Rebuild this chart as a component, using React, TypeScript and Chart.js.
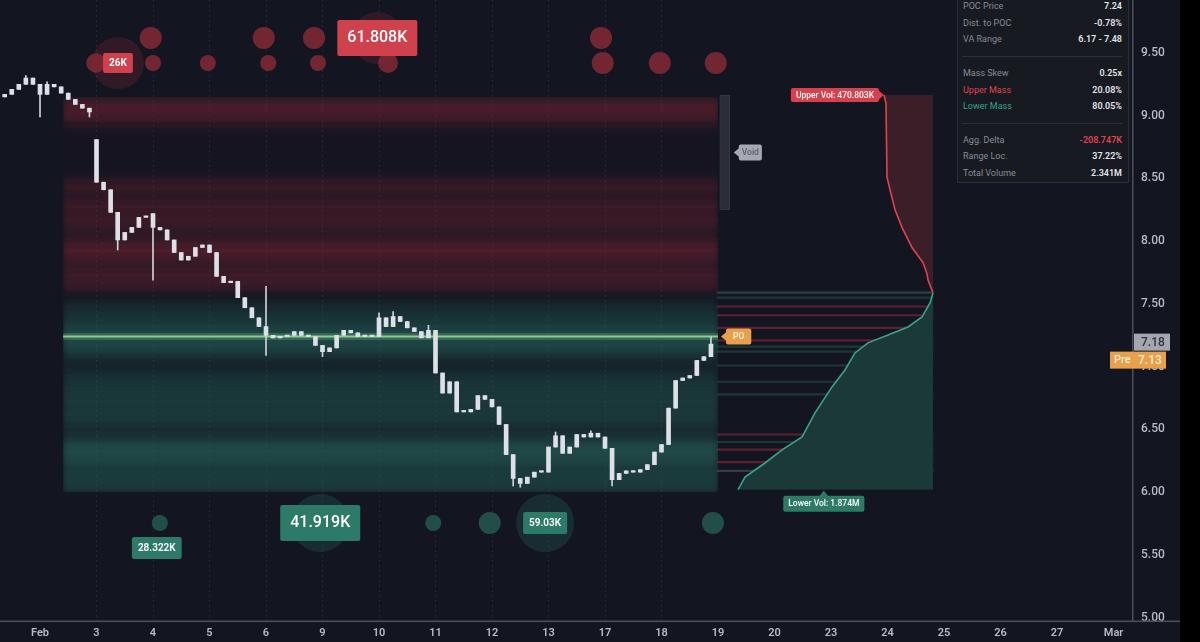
import React, { useEffect, useRef } from "react";
import { Chart, registerables } from "chart.js";

Chart.register(...registerables);

// ---- session axis (one unit per trading session, "Feb" = Feb 2) ----
const SESSION_LABELS = ["Feb", "3", "4", "5", "6", "9", "10", "11", "12", "13", "17", "18", "19", "20", "23", "24", "25", "26", "27", "Mar"];
const PRICE_TICKS = [5.0, 5.5, 6.0, 6.5, 7.0, 7.5, 8.0, 8.5, 9.0, 9.5];
const X_MIN = -0.708;
const X_MAX = 19.345;
const Y_MIN = 4.974;
const Y_MAX = 9.922;

// ---- intraday bars: 8 per session, first bar at session -0.625 ----
const BAR_FIRST = -0.625;
const BAR_STEP = 0.125;
const CLOSES = [
  9.17, 9.21, 9.25, 9.30, 9.25, 9.17, 9.25, 9.23, 9.18, 9.13, 9.09, 9.06, 9.03,
  8.47, 8.41, 8.23, 8.01, 8.07, 8.11, 8.19, 8.20,
  8.11, 8.09, 8.01, 7.91, 7.85, 7.88, 7.95, 7.97,
  7.91, 7.72, 7.67, 7.68, 7.55, 7.47, 7.39, 7.32,
  7.25, 7.23, 7.24, 7.25, 7.28, 7.25, 7.24, 7.17,
  7.12, 7.15, 7.25, 7.29, 7.27, 7.24, 7.25, 7.24,
  7.39, 7.32, 7.40, 7.36, 7.31, 7.28, 7.23, 7.29,
  6.95, 6.79, 6.88, 6.64, 6.64, 6.66, 6.77, 6.74,
  6.68, 6.54, 6.30, 6.11, 6.07, 6.12, 6.16, 6.16,
  6.36, 6.45, 6.31, 6.36, 6.46, 6.44, 6.47, 6.44,
  6.35, 6.10, 6.15, 6.17, 6.16, 6.18, 6.22, 6.32,
  6.38, 6.67, 6.89, 6.91, 6.93, 7.05, 7.08, 7.18,
];
// opens that differ from the prior close (session gaps)
const GAP_OPENS: Record<number, number> = { 0: 9.15, 13: 8.81, 21: 8.22 };
const WICK_LOWS: Record<number, number> = { 5: 8.99, 12: 8.99, 16: 7.93, 21: 7.69, 37: 7.09, 45: 7.08, 72: 6.05, 73: 6.04, 86: 6.05 };
const WICK_HIGHS: Record<number, number> = { 3: 9.32, 6: 9.27, 37: 7.64, 53: 7.43, 55: 7.44, 60: 7.33, 78: 6.48, 83: 6.49, 100: 7.24 };

// ---- liquidity heatmap (price bins of 0.05 from 6.00) ----
const HEAT_FROM = 6.0;
const HEAT_BIN = 0.05;
const HEAT_SPLIT = 7.57;
const HEAT_START = 0.41;
const HEAT_END = 12.0;
const HEAT_INTENSITY = [
  0.55, 0.6, 0.6, 0.55, 0.65, 0.8, 0.85, 0.8, 0.5, 0.35,
  0.35, 0.5, 0.55, 0.5, 0.55, 0.5, 0.5, 0.45, 0.4, 0.25,
  0.2, 0.35, 0.6, 0.75, 0.85, 0.75, 0.6, 0.5, 0.4, 0.3,
  0.15,
  0.05, 0.4, 0.5, 0.55, 0.45, 0.4, 0.6, 0.8, 0.6, 0.35,
  0.3, 0.4, 0.55, 0.35, 0.55, 0.35, 0.3, 0.5, 0.35, 0.1,
  0.05, 0.05, 0.05, 0.05, 0.05, 0.05, 0.08, 0.25, 0.55, 0.7,
  0.7, 0.45,
];

// ---- key levels ----
const POC_PRICE = 7.24;
const VA_LOW = 6.17;
const VA_HIGH = 7.48;
const LAST_PRICE = 7.18;
const PRE_PRICE = 7.13;
const VOID_LOW = 8.25;
const VOID_HIGH = 9.165;
const VOID_SESSION = 12.12;

// ---- cumulative volume profile (millions), measured out from the mass split ----
const UPPER_VOL = 0.470803;
const LOWER_VOL = 1.874;
const UPPER_PRICES = [7.59, 7.61, 7.69, 7.74, 7.83, 7.95, 8.11, 8.25, 8.41, 8.51, 9.10, 9.165];
const UPPER_CUM = [0, 0.01, 0.048, 0.058, 0.096, 0.202, 0.298, 0.365, 0.413, 0.442, 0.452, UPPER_VOL];
const LOWER_PRICES = [6.02, 6.12, 6.233, 6.337, 6.44, 6.632, 6.839, 6.974, 7.11, 7.19, 7.253, 7.317, 7.396, 7.508, 7.588];
const LOWER_CUM = [LOWER_VOL, 1.807, 1.615, 1.451, 1.259, 1.134, 0.971, 0.846, 0.75, 0.625, 0.432, 0.24, 0.106, 0.029, 0];
const PROFILE_SPAN = 2.076;
const VOL_MIN = -1.922;
const VOL_MAX = 8.967;

// thin level lines inside the profile column
const LEVEL_PRICES = [7.59, 7.55, VA_HIGH, 7.41, 7.31, 7.21, 7.16, 7.12, 7.01, 6.88, 6.78, 6.46, 6.40, 6.34, 6.24, VA_LOW];
const LEVEL_SIDE = ["n", "b", "s", "s", "s", "s", "b", "b", "b", "b", "b", "s", "b", "s", "s", "n"];

// ---- large-trade bubbles (volume in K) ----
const SELL_SESSION = [1.96, 3.96, 4.85, 9.93, 0.99, 2.0, 2.97, 4.04, 4.92, 6.16, 9.96, 10.97, 11.96];
const SELL_PRICE = [9.62, 9.62, 9.62, 9.62, 9.42, 9.42, 9.42, 9.42, 9.42, 9.42, 9.42, 9.42, 9.42];
const SELL_VOL = [71, 71, 71, 71, 50, 28, 28, 28, 28, 54, 71, 71, 71];
const BUY_SESSION = [6.96, 7.96, 11.91];
const BUY_PRICE = [5.755, 5.755, 5.755];
const BUY_VOL = [28, 71, 71];

const SELL_TAG_SESSION = [1.38, 5.97];
const SELL_TAG_PRICE = [9.42, 9.62];
const SELL_TAG_VOL = [26.0, 61.808];
const SELL_TAG_TEXT = ["26K", "61.808K"];
const BUY_TAG_SESSION = [2.12, 4.96, 8.94];
const BUY_TAG_PRICE = [5.755, 5.755, 5.755];
const BUY_TAG_VOL = [28.322, 41.919, 59.03];
const BUY_TAG_TEXT = ["28.322K", "41.919K", "59.03K"];

const TABLE_ROWS: ([string, string] | null)[] = [
  ["POC Price", POC_PRICE.toFixed(2)],
  ["Dist. to POC", "-0.78%"],
  ["VA Range", `${VA_LOW.toFixed(2)} - ${VA_HIGH.toFixed(2)}`],
  null,
  ["Mass Skew", "0.25x"],
  ["Upper Mass", "20.08%"],
  ["Lower Mass", "80.05%"],
  null,
  ["Agg. Delta", "-208.747K"],
  ["Range Loc.", "37.22%"],
  ["Total Volume", "2.341M"],
];

// ---- styling ----
const BG = "#131621";
const AXIS_TEXT = "#b8bbc3";
const LINE_GRAY = "#4b4f5a";
const SELL_RED = "#cf414d";
const BUY_TEAL = "#2c7a67";
const FONT = 'Roboto, "DejaVu Sans", sans-serif';

const bubbleRadius = (volK: number) => 3 + 0.95 * Math.sqrt(volK);

type TagOpts = {
  bg: string; fg: string; size: number; weight?: number; padX: number; h: number;
  arrow?: "left" | "right" | "up" | "none"; radius?: number;
};

function drawTag(ctx: CanvasRenderingContext2D, text: string, x: number, y: number, o: TagOpts) {
  const a = 5;
  ctx.save();
  ctx.font = `${o.weight ?? 500} ${o.size}px ${FONT}`;
  const w = ctx.measureText(text).width + o.padX * 2;
  const h = o.h;
  let bx = x - w / 2;
  let by = y - h / 2;
  if (o.arrow === "left") bx = x + a;
  else if (o.arrow === "right") bx = x - a - w;
  else if (o.arrow === "up") by = y + a;
  ctx.fillStyle = o.bg;
  ctx.beginPath();
  ctx.roundRect(bx, by, w, h, o.radius ?? 2);
  ctx.fill();
  ctx.beginPath();
  if (o.arrow === "left") {
    ctx.moveTo(x, y); ctx.lineTo(bx + 1, y - a); ctx.lineTo(bx + 1, y + a);
  } else if (o.arrow === "right") {
    ctx.moveTo(x, y); ctx.lineTo(bx + w - 1, y - a); ctx.lineTo(bx + w - 1, y + a);
  } else if (o.arrow === "up") {
    ctx.moveTo(x, y); ctx.lineTo(x - a, by + 1); ctx.lineTo(x + a, by + 1);
  }
  ctx.closePath();
  ctx.fill();
  ctx.fillStyle = o.fg;
  ctx.textAlign = "center";
  ctx.textBaseline = "middle";
  ctx.fillText(text, bx + w / 2, by + h / 2 + 0.5);
  ctx.restore();
}

const overlayPlugin = {
  id: "overlay",
  beforeDraw(chart: any) {
    const { ctx, width, height } = chart;
    ctx.save();
    ctx.fillStyle = BG;
    ctx.fillRect(0, 0, width, height);
    ctx.restore();
  },
  beforeDatasetDraw(chart: any, args: any) {
    const ds = chart.data.datasets[args.index];
    if (!ds.softEdges) return;
    const { x, yH } = chart.scales;
    const ctx = chart.ctx;
    const left = x.getPixelForValue(HEAT_START);
    const right = x.getPixelForValue(HEAT_END);
    const top = yH.getPixelForValue(HEAT_FROM + HEAT_BIN * HEAT_INTENSITY.length);
    const bottom = yH.getPixelForValue(HEAT_FROM);
    ctx.save();
    ctx.beginPath();
    ctx.rect(left, top, right - left, bottom - top);
    ctx.clip();
    ctx.filter = "blur(3px)";
  },
  afterDatasetDraw(chart: any, args: any) {
    const ds = chart.data.datasets[args.index];
    if (ds.softEdges) chart.ctx.restore();
  },
  afterDraw(chart: any) {
    const { ctx, chartArea, width } = chart;
    const { x, y, xVol } = chart.scales;

    // bottom rule across the full width
    ctx.save();
    ctx.fillStyle = LINE_GRAY;
    ctx.fillRect(0, chartArea.bottom - 0.5, width, 1.6);
    ctx.restore();

    // bubble tags
    SELL_TAG_TEXT.forEach((t, i) => {
      const big = SELL_TAG_VOL[i] > 50;
      drawTag(ctx, t, x.getPixelForValue(SELL_TAG_SESSION[i]), y.getPixelForValue(SELL_TAG_PRICE[i]), {
        bg: SELL_RED, fg: "#ffffff", size: big ? 16 : 10, weight: big ? 500 : 700,
        padX: big ? 10 : 6, h: big ? 36 : 20,
      });
    });
    BUY_TAG_TEXT.forEach((t, i) => {
      const big = i === 1;
      const below = i === 0;
      drawTag(ctx, t, x.getPixelForValue(BUY_TAG_SESSION[i]) - (below ? 3 : 0),
        y.getPixelForValue(BUY_TAG_PRICE[i]) + (below ? 25 : 0), {
          bg: BUY_TEAL, fg: "#ffffff", size: big ? 16 : 10, weight: big ? 500 : 600,
          padX: big ? 10 : 6, h: big ? 36 : 22,
        });
    });

    // profile tags
    drawTag(ctx, `Upper Vol: ${(UPPER_VOL * 1000).toFixed(3)}K`, xVol.getPixelForValue(UPPER_VOL),
      y.getPixelForValue(UPPER_PRICES[UPPER_PRICES.length - 1]),
      { bg: "#d9404d", fg: "#ffffff", size: 8.5, padX: 5, h: 14, arrow: "right" });
    drawTag(ctx, `Lower Vol: ${LOWER_VOL.toFixed(3)}M`, xVol.getPixelForValue(LOWER_VOL * 0.56),
      y.getPixelForValue(LOWER_PRICES[0]) + 1,
      { bg: BUY_TEAL, fg: "#ffffff", size: 8.5, padX: 5, h: 16, arrow: "up" });
    drawTag(ctx, "PO", x.getPixelForValue(HEAT_END) + 3, y.getPixelForValue(POC_PRICE),
      { bg: "#e9a04a", fg: "#fff3e0", size: 8.5, padX: 7, h: 16, arrow: "left" });
    drawTag(ctx, "Void", x.getPixelForValue(VOID_SESSION) + 9, y.getPixelForValue((VOID_LOW + VOID_HIGH) / 2),
      { bg: "#a6a9b1", fg: "#5d6069", size: 8.5, padX: 3, h: 16, arrow: "left" });

    // price-axis markers
    const axisX = chartArea.right;
    const lastY = y.getPixelForValue(LAST_PRICE) - 2;
    const preY = lastY + 18;
    ctx.save();
    ctx.fillStyle = "#a3a6ae";
    ctx.fillRect(axisX + 1, lastY - 8.5, 36, 17);
    ctx.font = `500 12px ${FONT}`;
    ctx.fillStyle = "#30333d";
    ctx.textBaseline = "middle";
    ctx.textAlign = "left";
    ctx.fillText(LAST_PRICE.toFixed(2), axisX + 8, lastY + 0.5);
    ctx.fillStyle = "#e9a04a";
    ctx.fillRect(axisX - 23, preY - 8.5, 56, 17);
    ctx.fillStyle = "#fff0db";
    ctx.font = `500 11px ${FONT}`;
    ctx.fillText("Pre", axisX - 19, preY + 0.5);
    ctx.font = `500 12px ${FONT}`;
    ctx.fillText(PRE_PRICE.toFixed(2), axisX + 5, preY + 0.5);
    ctx.restore();
  },
};

function buildConfig(): any {
  const barX = CLOSES.map((_, i) => BAR_FIRST + i * BAR_STEP);
  const opens = CLOSES.map((c, i) => GAP_OPENS[i] ?? CLOSES[i - 1] ?? c);
  const bodies = CLOSES.map((c, i) => ({ x: barX[i], y: [opens[i], c] }));
  const wicks = CLOSES.map((c, i) => ({
    x: barX[i],
    y: [WICK_LOWS[i] ?? Math.min(opens[i], c), WICK_HIGHS[i] ?? Math.max(opens[i], c)],
  }));

  const heatLevels = HEAT_INTENSITY.map((_, i) => HEAT_FROM + HEAT_BIN * (i + 0.5));
  const heatColors = heatLevels.map((lv, i) =>
    lv > HEAT_SPLIT
      ? `rgba(128,38,52,${HEAT_INTENSITY[i] * 0.76})`
      : `rgba(40,106,96,${HEAT_INTENSITY[i] * 0.8})`);

  const levelColors = LEVEL_SIDE.map((s) =>
    s === "s" ? "rgba(140,42,58,0.6)" : s === "b" ? "rgba(42,100,92,0.42)" : "rgba(95,120,120,0.4)");

  const sellBubbles = SELL_SESSION.map((s, i) => ({ x: s, y: SELL_PRICE[i], r: bubbleRadius(SELL_VOL[i]) }));
  const buyBubbles = BUY_SESSION.map((s, i) => ({ x: s, y: BUY_PRICE[i], r: bubbleRadius(BUY_VOL[i]) }));
  const sellTagBubbles = SELL_TAG_SESSION.map((s, i) => ({ x: s, y: SELL_TAG_PRICE[i], r: bubbleRadius(SELL_TAG_VOL[i]) }));
  const buyTagBubbles = BUY_TAG_SESSION.map((s, i) => ({ x: s, y: BUY_TAG_PRICE[i], r: bubbleRadius(BUY_TAG_VOL[i]) }));
  const sellHalos = SELL_TAG_SESSION.map((s, i) => ({ x: s, y: SELL_TAG_PRICE[i], r: 26 }));
  const buyHalos = BUY_TAG_SESSION.slice(1).map((s, i) => ({ x: s, y: BUY_TAG_PRICE[i + 1], r: 29 }));

  const hBar = { type: "bar", indexAxis: "y", grouped: false, borderWidth: 0, barPercentage: 1, categoryPercentage: 1 };
  const flat = { offset: false, grid: { offset: false } };

  return {
    type: "bar",
    data: {
      datasets: [
        {
          ...hBar, softEdges: true, xAxisID: "x", yAxisID: "yH", order: 30,
          data: heatLevels.map((lv) => ({ y: lv, x: [HEAT_START, HEAT_END] })),
          backgroundColor: heatColors,
        },
        {
          ...hBar, xAxisID: "xVol", yAxisID: "yP", order: 25, barThickness: 1.5,
          data: LEVEL_PRICES.map((p) => ({ y: p, x: [0, PROFILE_SPAN] })),
          backgroundColor: levelColors,
        },
        {
          type: "line", indexAxis: "y", xAxisID: "xVol", yAxisID: "y", order: 20,
          data: UPPER_PRICES.map((p, i) => ({ x: UPPER_CUM[i], y: p })),
          borderColor: "#e2414f", borderWidth: 1.6, pointRadius: 0, tension: 0,
          backgroundColor: "#3b1f28", fill: { value: 0 },
        },
        {
          type: "line", indexAxis: "y", xAxisID: "xVol", yAxisID: "y", order: 20,
          data: LOWER_PRICES.map((p, i) => ({ x: LOWER_CUM[i], y: p })),
          borderColor: "#3aa38b", borderWidth: 1.6, pointRadius: 0, tension: 0,
          backgroundColor: "#1b3936", fill: { value: 0 },
        },
        {
          type: "bar", grouped: false, xAxisID: "x", yAxisID: "y", order: 18, barThickness: 10,
          data: [{ x: VOID_SESSION, y: [VOID_LOW, VOID_HIGH] }],
          backgroundColor: "#2a2d36", borderColor: "#383b44", borderWidth: 1, borderSkipped: false,
        },
        {
          type: "line", xAxisID: "x", yAxisID: "y", order: 12,
          data: [{ x: HEAT_START, y: POC_PRICE }, { x: HEAT_END, y: POC_PRICE }],
          borderColor: "rgba(140,215,150,0.22)", borderWidth: 7, pointRadius: 0, fill: false,
        },
        {
          type: "line", xAxisID: "x", yAxisID: "y", order: 11,
          data: [{ x: HEAT_START, y: POC_PRICE }, { x: HEAT_END, y: POC_PRICE }],
          borderColor: "rgba(150,215,150,0.9)", borderWidth: 2, pointRadius: 0, fill: false,
        },
        {
          type: "bubble", xAxisID: "x", yAxisID: "y", order: 9,
          data: sellHalos, backgroundColor: "rgba(120,38,48,0.3)", borderWidth: 0,
        },
        {
          type: "bubble", xAxisID: "x", yAxisID: "y", order: 9,
          data: buyHalos, backgroundColor: "rgba(34,84,76,0.38)", borderWidth: 0,
        },
        {
          type: "bubble", xAxisID: "x", yAxisID: "y", order: 8,
          data: [...sellBubbles, ...sellTagBubbles], backgroundColor: "rgba(140,44,54,0.78)", borderWidth: 0,
        },
        {
          type: "bubble", xAxisID: "x", yAxisID: "y", order: 8,
          data: [...buyBubbles, ...buyTagBubbles], backgroundColor: "rgba(36,86,77,0.88)", borderWidth: 0,
        },
        {
          type: "bar", grouped: false, xAxisID: "x", yAxisID: "y", order: 2, barThickness: 1,
          data: wicks, backgroundColor: "#cfd2da", borderWidth: 0,
        },
        {
          type: "bar", grouped: false, xAxisID: "x", yAxisID: "y", order: 1, barThickness: 4, minBarLength: 1.5,
          data: bodies, backgroundColor: "#dde0e6", borderWidth: 0,
        },
      ],
    },
    options: {
      responsive: false,
      animation: false,
      devicePixelRatio: 1,
      layout: { padding: 0, autoPadding: false },
      events: [],
      plugins: { legend: { display: false }, tooltip: { enabled: false } },
      scales: {
        x: {
          type: "linear", position: "bottom", min: X_MIN, max: X_MAX, offset: false,
          afterBuildTicks: (s: any) => { s.ticks = SESSION_LABELS.map((_, i) => ({ value: i })); },
          afterFit: (s: any) => { s.height = 21; s.paddingLeft = 0; s.paddingRight = 0; },
          ticks: {
            callback: (v: number) => SESSION_LABELS[Math.round(v)] ?? "",
            color: AXIS_TEXT, font: { family: FONT, size: 11, weight: 600 }, padding: 6,
            maxRotation: 0, autoSkip: false,
          },
          grid: {
            offset: false,
            drawTicks: false,
            color: (c: any) => (c.tick && c.tick.value >= 1 && c.tick.value <= 11 ? "rgba(190,196,210,0.1)" : "rgba(0,0,0,0)"),
          },
          border: { display: false, dash: [2, 3] },
        },
        y: {
          type: "linear", position: "right", min: Y_MIN, max: Y_MAX, offset: false,
          afterBuildTicks: (s: any) => { s.ticks = PRICE_TICKS.map((v) => ({ value: v })); },
          afterFit: (s: any) => { s.width = 47; s.paddingTop = 0; s.paddingBottom = 0; },
          ticks: {
            callback: (v: number) => v.toFixed(2),
            color: AXIS_TEXT, font: { family: FONT, size: 12, weight: 500 }, padding: 8,
          },
          grid: { display: false, drawTicks: false, offset: false },
          border: { display: true, color: LINE_GRAY, width: 1.5 },
        },
        yH: { type: "linear", display: false, min: Y_MIN, max: Y_MAX, ...flat },
        yP: { type: "linear", display: false, min: Y_MIN, max: Y_MAX, ...flat },
        xVol: { type: "linear", display: false, reverse: true, min: VOL_MIN, max: VOL_MAX, ...flat },
      },
    },
    plugins: [overlayPlugin],
  };
}

function StatsTable() {
  const labelColor = (name: string) =>
    name === "Upper Mass" ? "#e0414f" : name === "Lower Mass" ? "#2fa58a" : "#878c97";
  const valueColor = (name: string) => (name === "Agg. Delta" ? "#e0414f" : "#e2e5ea");
  return (
    <div
      style={{
        position: "absolute", left: 957, top: -4, width: 172, height: 187,
        background: "#171a21", border: "1px solid #2a2e38", boxSizing: "border-box",
        fontFamily: FONT, fontSize: 9,
      }}
    >
      {TABLE_ROWS.map((row, i) => {
        const top = 9 + 16.7 * i - 8;
        if (!row) {
          return (
            <div key={i} style={{ position: "absolute", left: 4, right: 5, top: top + 8, height: 1, background: "#2a2e38" }} />
          );
        }
        return (
          <div key={i} style={{ position: "absolute", left: 5, right: 6, top, height: 16, display: "flex", alignItems: "center", justifyContent: "space-between" }}>
            <span style={{ color: labelColor(row[0]) }}>{row[0]}</span>
            <span style={{ color: valueColor(row[0]), fontWeight: 600 }}>{row[1]}</span>
          </div>
        );
      })}
    </div>
  );
}

export default function App() {
  const canvasRef = useRef<HTMLCanvasElement>(null);
  useEffect(() => {
    const canvas = canvasRef.current;
    if (!canvas) return;
    const chart = new Chart(canvas, buildConfig());
    return () => chart.destroy();
  }, []);
  return (
    <div style={{ position: "fixed", left: 0, top: 0, width: 1200, height: 642, background: "#000", overflow: "hidden" }}>
      <canvas ref={canvasRef} width={1180} height={642} style={{ position: "absolute", left: 0, top: 0, display: "block" }} />
      <StatsTable />
    </div>
  );
}
